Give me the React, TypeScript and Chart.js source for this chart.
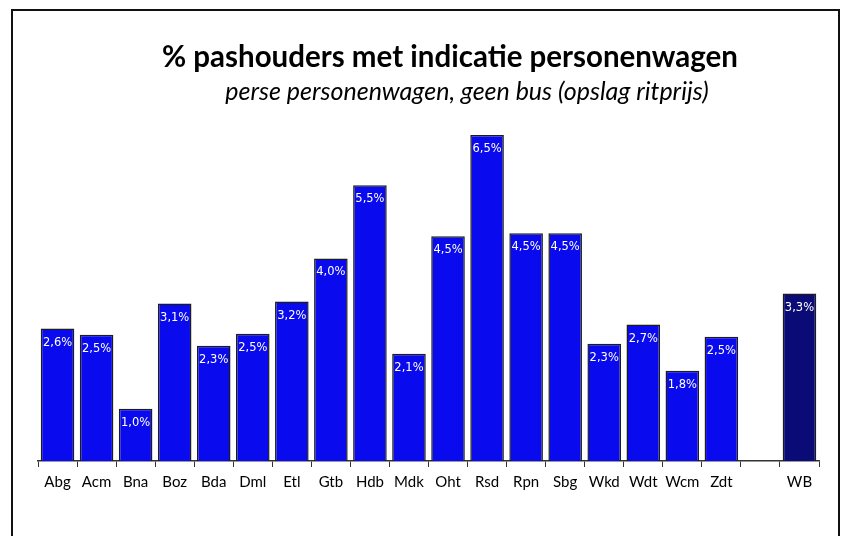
import React, { useEffect, useRef } from "react";
import { Chart, registerables } from "chart.js";

Chart.register(...registerables);

const categories = ["Abg", "Acm", "Bna", "Boz", "Bda", "Dml", "Etl", "Gtb", "Hdb", "Mdk", "Oht", "Rsd", "Rpn", "Sbg", "Wkd", "Wdt", "Wcm", "Zdt", "", "WB"];
const values: (number | null)[] = [2.64, 2.52, 1.04, 3.14, 2.3, 2.54, 3.18, 4.04, 5.5, 2.14, 4.48, 6.5, 4.54, 4.54, 2.34, 2.72, 1.8, 2.48, null, 3.34];
const titleText = "% pashouders met indicatie personenwagen";
const subtitleText = "perse personenwagen, geen bus (opslag ritprijs)";

const barColors = categories.map((c) => (c === "WB" ? "#0b0b78" : "#0a0aee"));

const fmt = (v: number) => v.toFixed(1).replace(".", ",") + "%";

const labelPlugin = {
  id: "barLabels",
  afterDatasetsDraw(chart: any) {
    const ctx = chart.ctx;
    const meta = chart.getDatasetMeta(0);
    ctx.save();
    ctx.fillStyle = "#ffffff";
    ctx.font = "11.5px 'DejaVu Sans'";
    ctx.textAlign = "center";
    ctx.textBaseline = "middle";
    meta.data.forEach((el: any, i: number) => {
      const v = values[i];
      if (v == null) return;
      ctx.fillText(fmt(v), el.x, el.y + 14);
    });
    ctx.restore();
  },
};

const titlePlugin = {
  id: "customTitles",
  afterDraw(chart: any) {
    const ctx = chart.ctx;
    ctx.save();
    ctx.fillStyle = "#000000";
    ctx.textAlign = "center";
    ctx.textBaseline = "middle";
    ctx.font = "bold 29.5px Lato";
    ctx.fillText(titleText, 450, 57);
    ctx.font = "italic 25px Lato";
    ctx.fillText(subtitleText, 467, 92);
    ctx.restore();
  },
};

export default function App() {
  const canvasRef = useRef<HTMLCanvasElement | null>(null);

  useEffect(() => {
    if (!canvasRef.current) return;
    const chart = new Chart(canvasRef.current, {
      type: "bar",
      data: {
        labels: categories,
        datasets: [
          {
            data: values,
            backgroundColor: barColors,
            borderColor: "#1c1c1c",
            borderWidth: 1.5,
            categoryPercentage: 1,
            barPercentage: 0.86,
          },
        ],
      },
      options: {
        animation: false,
        responsive: false,
        maintainAspectRatio: false,
        layout: { padding: { top: 110, left: 38, right: 24, bottom: 39 } },
        plugins: {
          legend: { display: false },
          title: { display: false },
          tooltip: { enabled: false },
        },
        scales: {
          y: { display: false, min: 0, max: 7 },
          x: {
            grid: {
              offset: true,
              drawOnChartArea: false,
              drawTicks: true,
              tickLength: 6,
              color: "#333333",
            },
            border: { display: true, color: "#333333", width: 1.5 },
            ticks: {
              color: "#000000",
              font: { family: "Lato", size: 15 },
              padding: 6,
              maxRotation: 0,
              autoSkip: false,
            },
          },
        },
      },
      plugins: [labelPlugin, titlePlugin],
    });
    return () => chart.destroy();
  }, []);

  return (
    <div style={{ position: "fixed", left: 0, top: 0, width: 843, height: 536, background: "#ffffff", overflow: "hidden" }}>
      <div style={{ position: "absolute", left: 11, top: 9, width: 825, height: 600, border: "2px solid #111111" }} />
      <canvas ref={canvasRef} width={843} height={536} style={{ position: "absolute", left: 0, top: 0 }} />
    </div>
  );
}
